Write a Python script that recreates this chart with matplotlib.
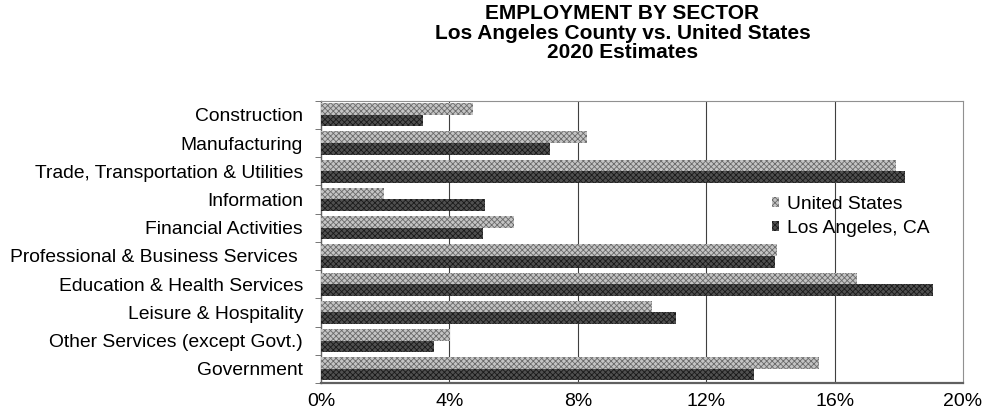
import numpy as np
import matplotlib.pyplot as plt

# Employment share by sector, 2020 estimates (percent)
sectors = [
    "Construction",
    "Manufacturing",
    "Trade, Transportation & Utilities",
    "Information",
    "Financial Activities",
    "Professional & Business Services ",
    "Education & Health Services",
    "Leisure & Hospitality",
    "Other Services (except Govt.)",
    "Government",
]
us_share = [4.73, 8.27, 17.9, 1.96, 6.02, 14.2, 16.7, 10.3, 4.02, 15.5]
la_share = [3.17, 7.13, 18.2, 5.12, 5.03, 14.15, 19.05, 11.05, 3.52, 13.5]
x_ticks = [0, 4, 8, 12, 16, 20]
x_labels = ["0%", "4%", "8%", "12%", "16%", "20%"]

plt.rcParams["font.family"] = ["Liberation Sans", "DejaVu Sans"]
plt.rcParams["hatch.linewidth"] = 0.6

fig = plt.figure(figsize=(9.88, 4.19), dpi=100)
ax = fig.add_axes([0.325, 0.0859, 0.6497, 0.6738])

y = np.arange(len(sectors))
h = 0.41
ax.barh(y - h / 2, us_share, height=h, color="#c4c4c4", edgecolor="#6a6a6a",
        hatch="xxxxxx", linewidth=0, label="United States", zorder=3)
ax.barh(y + h / 2, la_share, height=h, color="#505050", edgecolor="#1a1a1a",
        hatch="xxxxxx", linewidth=0, label="Los Angeles, CA", zorder=3)

ax.set_xlim(0, 20)
ax.set_ylim(len(sectors) - 0.5, -0.5)
ax.set_xticks(x_ticks)
ax.set_xticklabels(x_labels, fontsize=14)
ax.set_yticks(y)
ax.set_yticklabels(sectors, fontsize=13.9)
ax.set_yticks(np.arange(len(sectors) + 1) - 0.5, minor=True)
ax.tick_params(axis="y", which="major", length=0, pad=13)
ax.tick_params(axis="y", which="minor", length=4, color="#606060")
ax.tick_params(axis="x", length=0, pad=7)

for v in x_ticks[1:-1]:
    ax.axvline(v, color="#404040", linewidth=0.8, zorder=1)

ax.spines["bottom"].set_color("#606060")
ax.spines["bottom"].set_linewidth(1.6)
ax.spines["left"].set_color("#606060")
ax.spines["left"].set_linewidth(1.0)
ax.spines["top"].set_color("#909090")
ax.spines["top"].set_linewidth(0.8)
ax.spines["right"].set_color("#909090")
ax.spines["right"].set_linewidth(0.8)

ax.legend(loc="center left", bbox_to_anchor=(0.69, 0.59), frameon=False,
          fontsize=13.9, handlelength=0.4, handleheight=0.4, handletextpad=0.4,
          labelspacing=0.35, borderaxespad=0)

fig.text(0.63, 0.99, "EMPLOYMENT BY SECTOR\nLos Angeles County vs. United States\n2020 Estimates",
         ha="center", va="top", fontsize=15, fontweight="bold", linespacing=1.03)

fig.savefig("out.png", dpi=100)
